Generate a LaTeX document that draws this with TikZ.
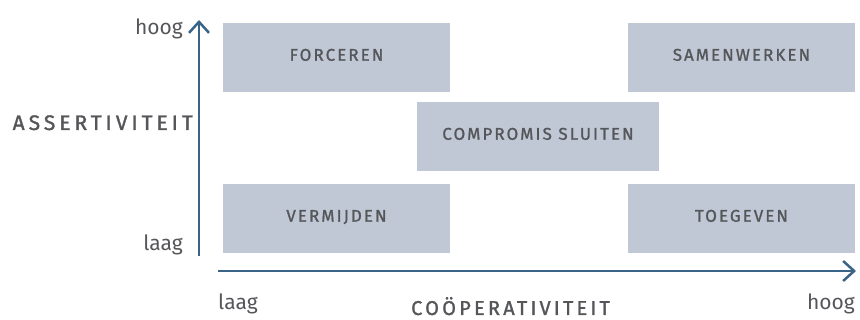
\documentclass[tikz,border=0pt]{standalone}
\usepackage{fontspec}
\setmainfont{Fira Sans}
\newfontfamily\capsfont[LetterSpace=12,FakeBold=1.2]{Fira Sans}
\newfontfamily\axisfont[LetterSpace=16,FakeBold=1.4]{Fira Sans}
\newfontfamily\axisfontwide[LetterSpace=19,FakeBold=1.4]{Fira Sans}
\usetikzlibrary{arrows.meta}
\definecolor{boxfill}{HTML}{C1C8D5}
\definecolor{txt}{HTML}{555659}
\definecolor{axis}{HTML}{3A6487}
\tikzset{
  stylebox/.style={fill=boxfill, draw=none, minimum width=227pt, minimum height=69pt, inner sep=0pt,
    font=\capsfont\fontsize{17}{20}\selectfont, text=txt, text height=8pt, text depth=1.5pt},
  axisline/.style={draw=axis, line width=2.5pt, -{Straight Barb[length=11pt,width=20pt,line width=2.5pt]}},
  axlabel/.style={font=\axisfont\fontsize{20}{24}\selectfont, text=txt, inner sep=0pt},
  endlabel/.style={font=\fontsize{21}{24}\selectfont, text=txt, inner sep=0pt}
}
\begin{document}
\begin{tikzpicture}[x=1pt,y=-1pt]
\useasboundingbox (0,0) rectangle (860,320);
\node[stylebox] (forc) at (336.5,57.5) {FORCEREN};
\node[stylebox] (samen) at (741.5,57.5) {SAMENWERKEN};
\node[stylebox, minimum width=242pt] (comp) at (538,136.5) {COMPROMIS SLUITEN};
\node[stylebox] (verm) at (336.5,218.5) {VERMIJDEN};
\node[stylebox] (toeg) at (741.5,218.5) {TOEGEVEN};
\coordinate (vstart) at (199,256);
\coordinate (vend) at (199,20);
\coordinate (hstart) at (218,271);
\coordinate (hend) at (856,271);
\draw[axisline] (vstart) -- (vend);
\draw[axisline] (hstart) -- (hend);
\node[endlabel, anchor=base east] (yhigh) at (183,35) {hoog};
\node[endlabel, anchor=base east] (ylow) at (183,251) {laag};
\node[axlabel, font=\axisfontwide\fontsize{21}{24}\selectfont, anchor=base east] (ylab) at (193,130) {ASSERTIVITEIT};
\node[endlabel, anchor=base west] (xlow) at (218,310) {laag};
\node[axlabel, anchor=base] (xlab) at (510.5,315) {COÖPERATIVITEIT};
\node[endlabel, anchor=base east] (xhigh) at (855,310) {hoog};
\end{tikzpicture}
\end{document}
